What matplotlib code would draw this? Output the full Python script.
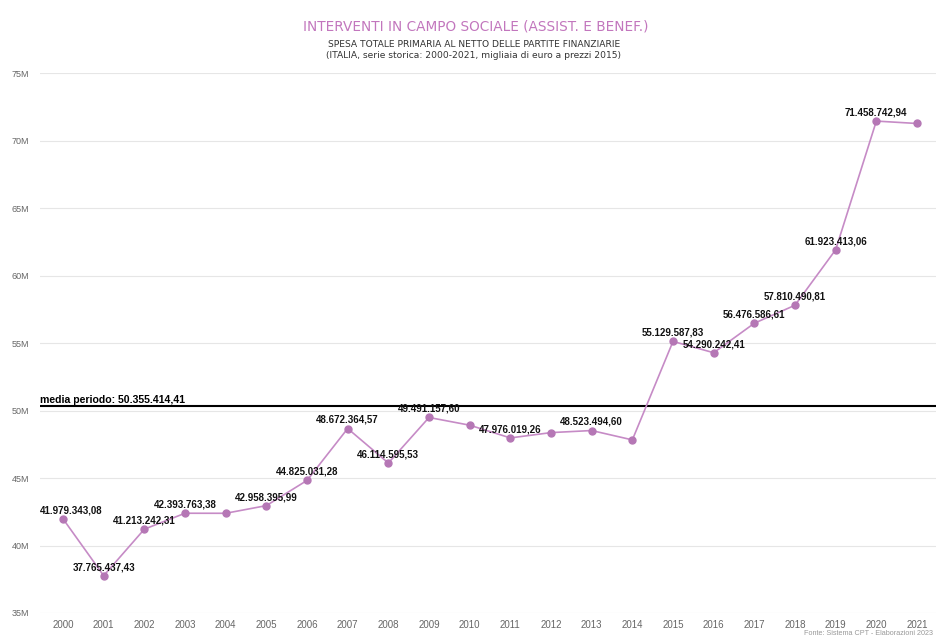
import matplotlib
matplotlib.use("Agg")
import matplotlib.pyplot as plt
import matplotlib.transforms as mtransforms
from matplotlib.ticker import FixedLocator, FuncFormatter

# Spesa per interventi in campo sociale, migliaia di euro a prezzi 2015
years = [2000, 2001, 2002, 2003, 2004, 2005, 2006, 2007, 2008, 2009, 2010,
         2011, 2012, 2013, 2014, 2015, 2016, 2017, 2018, 2019, 2020, 2021]
values = [41979343.08, 37765437.43, 41213242.31, 42393763.38, 42390000.00,
          42958395.99, 44825031.28, 48672364.57, 46114595.53, 49491157.60,
          48920000.00, 47976019.26, 48370000.00, 48523494.60, 47830000.00,
          55129587.83, 54290242.41, 56476586.61, 57810490.81, 61923413.06,
          71458742.94, 71280000.00]
# anni con etichetta del valore
labelled_years = [2000, 2001, 2002, 2003, 2005, 2006, 2007, 2008, 2009, 2011,
                  2013, 2015, 2016, 2017, 2018, 2019, 2020]
mean_value = 50355414.41
y_ticks = [35e6, 40e6, 45e6, 50e6, 55e6, 60e6, 65e6, 70e6, 75e6]

title = "INTERVENTI IN CAMPO SOCIALE (ASSIST. E BENEF.)"
subtitle_1 = "SPESA TOTALE PRIMARIA AL NETTO DELLE PARTITE FINANZIARIE"
subtitle_2 = "(ITALIA, serie storica: 2000-2021, migliaia di euro a prezzi 2015)"
source = "Fonte: Sistema CPT - Elaborazioni 2023"

FONT = ["Liberation Sans", "DejaVu Sans"]
HEAD_FONT = ["DejaVu Sans"]
plt.rcParams["font.family"] = FONT

LINE_COLOR = "#c68bc6"
MARKER_COLOR = "#b577b5"
TITLE_COLOR = "#c276bd"


def it_number(v):
    s = f"{v:,.2f}"
    return s.replace(",", "X").replace(".", ",").replace("X", ".")


W, H = 936, 637
fig = plt.figure(figsize=(W / 100, H / 100), dpi=100)
fig.patch.set_facecolor("white")

ax_left, ax_right = 40, 936
ax_top, ax_bottom = 73.3, 613
ax = fig.add_axes([ax_left / W, 1 - ax_bottom / H,
                   (ax_right - ax_left) / W, (ax_bottom - ax_top) / H])
ax.set_facecolor("white")

x = list(range(len(years)))
ax.plot(x, values, color=LINE_COLOR, linewidth=1.2, marker="o",
        markersize=5.0, markerfacecolor=MARKER_COLOR,
        markeredgecolor=MARKER_COLOR, zorder=4, clip_on=False)

ax.set_xlim(-0.566, 21.467)
ax.set_ylim(y_ticks[0], y_ticks[-1])

ax.yaxis.set_major_locator(FixedLocator(y_ticks))
ax.yaxis.set_major_formatter(FuncFormatter(lambda v, p: f"{v / 1e6:.0f}M"))
ax.set_xticks(x)
ax.set_xticklabels([str(y) for y in years])

ax.grid(axis="y", color="#e6e6e6", linewidth=0.8, zorder=0)
ax.grid(axis="x", visible=False)
for sp in ax.spines.values():
    sp.set_visible(False)
ax.tick_params(axis="both", length=0, colors="#666666")
ax.tick_params(axis="y", labelsize=6.5, pad=8)
ax.tick_params(axis="x", labelsize=7.0, pad=5)

# media del periodo
ax.axhline(mean_value, color="black", linewidth=1.5, zorder=3)
trans_left = mtransforms.blended_transform_factory(ax.transAxes, ax.transData)
ax.annotate(f"media periodo: {it_number(mean_value)}",
            xy=(0, mean_value), xycoords=trans_left,
            xytext=(0, 2.0), textcoords="offset points",
            ha="left", va="baseline", fontsize=7.6, fontweight="bold",
            color="black", zorder=5)

# etichette dei valori
for i, (yr, v) in enumerate(zip(years, values)):
    if yr not in labelled_years:
        continue
    if i == 0:
        ax.annotate(it_number(v), xy=(0, v), xycoords=trans_left,
                    xytext=(0, 4.0), textcoords="offset points",
                    ha="left", va="baseline", fontsize=7.0,
                    fontweight="bold", color="#111111", zorder=6)
    else:
        ax.annotate(it_number(v), xy=(i, v), xytext=(0, 4.0),
                    textcoords="offset points", ha="center", va="baseline",
                    fontsize=7.0, fontweight="bold", color="#111111",
                    zorder=6)

fig.text(476 / W, 1 - 27 / H, title, ha="center", va="center",
         fontsize=9.8, color=TITLE_COLOR, family=HEAD_FONT)
fig.text(474 / W, 1 - 44.3 / H, subtitle_1, ha="center", va="center",
         fontsize=6.6, color="#333333", family=HEAD_FONT)
fig.text(474 / W, 1 - 55.0 / H, subtitle_2, ha="center", va="center",
         fontsize=6.6, color="#333333", family=HEAD_FONT)
fig.text(933 / W, 1 - 633.5 / H, source, ha="right", va="center",
         fontsize=5.2, color="#999999")

fig.savefig("out.png", dpi=100, facecolor="white")
